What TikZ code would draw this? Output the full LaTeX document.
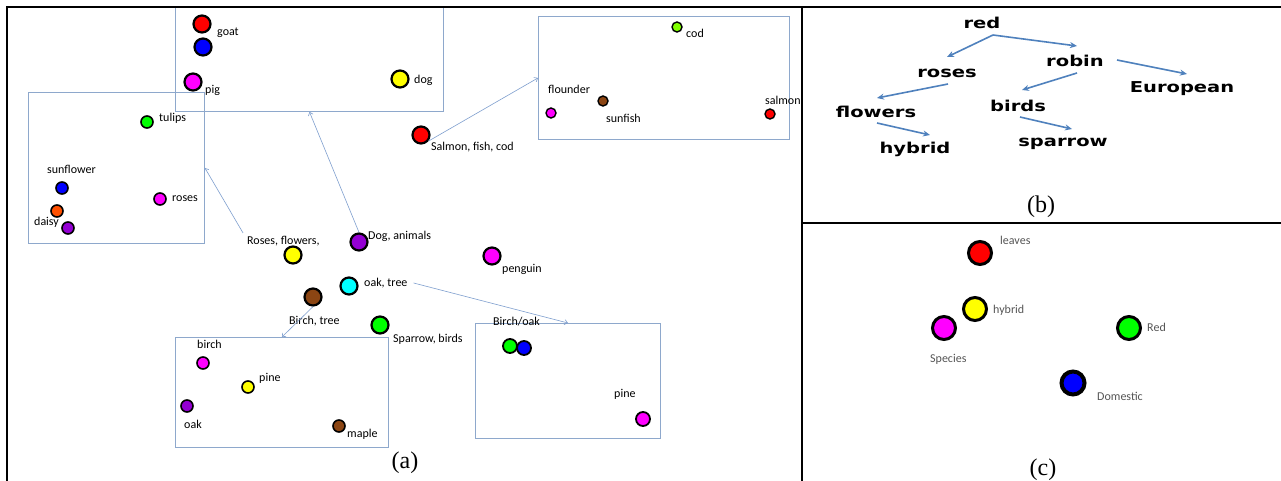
\documentclass[tikz,border=0pt]{standalone}
\usepackage{fontspec}
\setmainfont{Liberation Serif}
\newfontfamily\carl{Carlito}
\newfontfamily\widebold[FakeStretch=1.3]{DejaVu Sans}
\usetikzlibrary{arrows.meta}
\definecolor{boxblue}{HTML}{8EA8CC}
\definecolor{arrblue}{HTML}{7F9FCF}
\definecolor{bblue}{HTML}{4F81BD}
\definecolor{dpurple}{HTML}{9400D3}
\definecolor{dbrown}{HTML}{8B4513}
\definecolor{dorange}{HTML}{FF5000}
\definecolor{codgreen}{HTML}{80FF00}
\definecolor{labgray}{HTML}{555555}
\definecolor{dmagenta}{HTML}{FF00FF}
\definecolor{dcyan}{HTML}{00FFFF}
\definecolor{dyellow}{HTML}{FFFF00}
\definecolor{dred}{HTML}{FF0000}
\definecolor{dgreen}{HTML}{00FF00}
\definecolor{dblue}{HTML}{0000FF}
\tikzset{
  bigdot/.style={circle, draw=black, line width=2.2pt, minimum size=17pt, inner sep=0pt, fill=#1},
  meddot/.style={circle, draw=black, line width=1.8pt, minimum size=14pt, inner sep=0pt, fill=#1},
  smalldot/.style={circle, draw=black, line width=1.6pt, minimum size=12pt, inner sep=0pt, fill=#1},
  tinydot/.style={circle, draw=black, line width=1.4pt, minimum size=10pt, inner sep=0pt, fill=#1},
  cdot/.style={circle, draw=black, line width=3pt, minimum size=23pt, inner sep=0pt, fill=#1},
  lbl/.style={font=\carl\fontsize{12}{14}\selectfont, anchor=west, inner sep=0pt},
  clbl/.style={font=\carl\fontsize{12}{14}\selectfont, text=labgray, anchor=west, inner sep=0pt},
  boxst/.style={draw=boxblue, line width=0.9pt, anchor=north west, inner sep=0pt},
  arr/.style={draw=arrblue, line width=0.6pt, -{Straight Barb[length=3pt,width=5pt]}},
  barr/.style={draw=bblue, line width=1.6pt, -{Stealth[length=7pt,width=6pt]}},
  word/.style={font=\widebold\bfseries\fontsize{15}{17}\selectfont, inner sep=0pt},
  capt/.style={font=\fontsize{24}{28}\selectfont, inner sep=0pt},
  frame/.style={draw=black, line width=2pt}
}
\begin{document}
\begin{tikzpicture}[x=1pt, y=-1pt]
\useasboundingbox (0,0) rectangle (1281,481);
\fill[white] (0,0) rectangle (1281,481);
% ---- panel (a) boxes
\node[boxst, minimum width=268pt, minimum height=104pt] (goatbox) at (175,7) {};
\node[boxst, minimum width=176pt, minimum height=151pt] (flbox) at (28,92) {};
\node[boxst, minimum width=251pt, minimum height=123pt] (fishbox) at (538,16) {};
\node[boxst, minimum width=213pt, minimum height=110pt] (treebox) at (175,337) {};
\node[boxst, minimum width=185pt, minimum height=115pt] (birdbox) at (475,323) {};
% ---- frame
\draw[frame] (7,481) -- (7,7) -- (1281,7);
\draw[frame] (802,7) -- (802,481);
\draw[frame] (802,223) -- (1281,223);
% ---- goat box
\node[bigdot=dred] (goatr) at (202,24) {};
\node[bigdot=dblue] (goatb) at (203,47) {};
\node[bigdot=dmagenta] (pigc) at (193,82) {};
\node[bigdot=dyellow] (dogy) at (400,79) {};
\node[lbl] (goatl) at (217,33) {goat};
\node[lbl] (pigl) at (205,90) {pig};
\node[lbl] (dogl) at (414,80) {dog};
% ---- flower box
\node[smalldot=dgreen] (tulc) at (147,122) {};
\node[smalldot=dblue] (sunc) at (62,188) {};
\node[smalldot=dmagenta] (rosc) at (160,199) {};
\node[smalldot=dorange] (daic) at (57,211) {};
\node[smalldot=dpurple] (daip) at (68,228) {};
\node[lbl] (tull) at (159,118) {tulips};
\node[lbl] (sunl) at (47,169) {sunflower};
\node[lbl] (rosl) at (172,199) {roses};
\node[lbl] (dail) at (34,222) {daisy};
% ---- fish box
\node[tinydot=codgreen] (codc) at (677,27) {};
\node[tinydot=dmagenta] (flc) at (551,113) {};
\node[tinydot=dbrown] (sfc) at (603,101) {};
\node[tinydot=dred] (smc) at (770,114) {};
\node[lbl] (codl) at (686,33) {cod};
\node[lbl] (fll) at (548,89) {flounder};
\node[lbl] (sfl) at (606,118) {sunfish};
\node[lbl] (sml) at (765,100) {salmon};
% ---- middle
\node[bigdot=dred] (salmonc) at (421,135) {};
\node[lbl] (salmonl) at (431,147) {Salmon, fish, cod};
\node[bigdot=dyellow] (rosesc) at (293,255) {};
\node[lbl] (roseslbl) at (247,241) {Roses, flowers,};
\node[bigdot=dpurple] (dogc) at (359,242) {};
\node[lbl] (dogal) at (368,236) {Dog, animals};
\node[bigdot=dcyan] (oakc) at (349,286) {};
\node[lbl] (oaklbl) at (364,283) {oak, tree};
\node[bigdot=dbrown] (birchc) at (313,297) {};
\node[lbl] (birchl) at (289,321) {Birch, tree};
\node[bigdot=dgreen] (sparc) at (380,325) {};
\node[lbl] (sparl) at (393,339) {Sparrow, birds};
\node[bigdot=dmagenta] (pengc) at (492,256) {};
\node[lbl] (pengl) at (502,269) {penguin};
% ---- tree box
\node[smalldot=dmagenta] (bic) at (203,363) {};
\node[smalldot=dyellow] (pic) at (248,387) {};
\node[smalldot=dpurple] (oac) at (187,406) {};
\node[smalldot=dbrown] (mac) at (339,426) {};
\node[lbl] (bil) at (197,344) {birch};
\node[lbl] (pil) at (259,378) {pine};
\node[lbl] (oal) at (184,424) {oak};
\node[lbl] (mal) at (347,434) {maple};
% ---- bird box
\node[meddot=dgreen] (bog) at (510,346) {};
\node[meddot=dblue] (bob) at (524,348) {};
\node[meddot=dmagenta] (bpc) at (643,419) {};
\node[lbl] (bol) at (493,322) {Birch/oak};
\node[lbl] (bpl) at (614,394) {pine};
% ---- arrows (a)
\draw[arr] (salmonc.-40) -- (fishbox.west);
\draw[arr] ([xshift=-4pt,yshift=3pt]roseslbl.north west) -- (flbox.east);
\draw[arr] (dogc.north) -- (goatbox.south);
\draw[arr] ([xshift=6pt]oaklbl.east) -- (birdbox.north);
\draw[arr] (birchc.south) -- (treebox.north);
\node[capt] (capa) at (405,463) {(a)};
% ---- panel (b)
\node[word] (red) at (982,23) {red};
\node[word] (roses) at (947,73) {roses};
\node[word] (robin) at (1075,61) {robin};
\node[word] (european) at (1182,89) {European};
\node[word] (flowers) at (876,112) {flowers};
\node[word] (birds) at (1018,106) {birds};
\node[word] (hybrid) at (915,149) {hybrid};
\node[word] (sparrow) at (1063,144) {sparrow};
\draw[barr] ([shift={(11,12)}]red.center) -- ([shift={(0,-16)}]roses.center);
\draw[barr] ([shift={(11,12)}]red.center) -- ([shift={(2,-15)}]robin.center);
\draw[barr] ([shift={(2,12)}]robin.center) -- ([shift={(4,-16)}]birds.center);
\draw[barr] ([shift={(42,-1)}]robin.center) -- ([shift={(5,-15)}]european.center);
\draw[barr] ([shift={(1,11)}]roses.center) -- ([shift={(1,-14)}]flowers.center);
\draw[barr] ([shift={(1,11)}]flowers.center) -- ([shift={(15,-14)}]hybrid.center);
\draw[barr] ([shift={(2,11)}]birds.center) -- ([shift={(9,-15)}]sparrow.center);
\node[capt] (capb) at (1041,207) {(b)};
% ---- panel (c)
\node[cdot=dred] (leavesc) at (980,253) {};
\node[cdot=dyellow] (hybridc) at (975,309) {};
\node[cdot=dmagenta] (speciesc) at (944,328) {};
\node[cdot=dgreen] (redc) at (1129,328) {};
\node[cdot=dblue, line width=4pt] (domc) at (1073,383) {};
\node[clbl] (leavesl) at (1000,240) {leaves};
\node[clbl] (hybridl) at (993,310) {hybrid};
\node[clbl] (speciesl) at (930,359) {Species};
\node[clbl] (redl) at (1147,327) {Red};
\node[clbl] (doml) at (1097,396) {Domestic};
\node[capt] (capc) at (1043,470) {(c)};
\end{tikzpicture}
\end{document}
